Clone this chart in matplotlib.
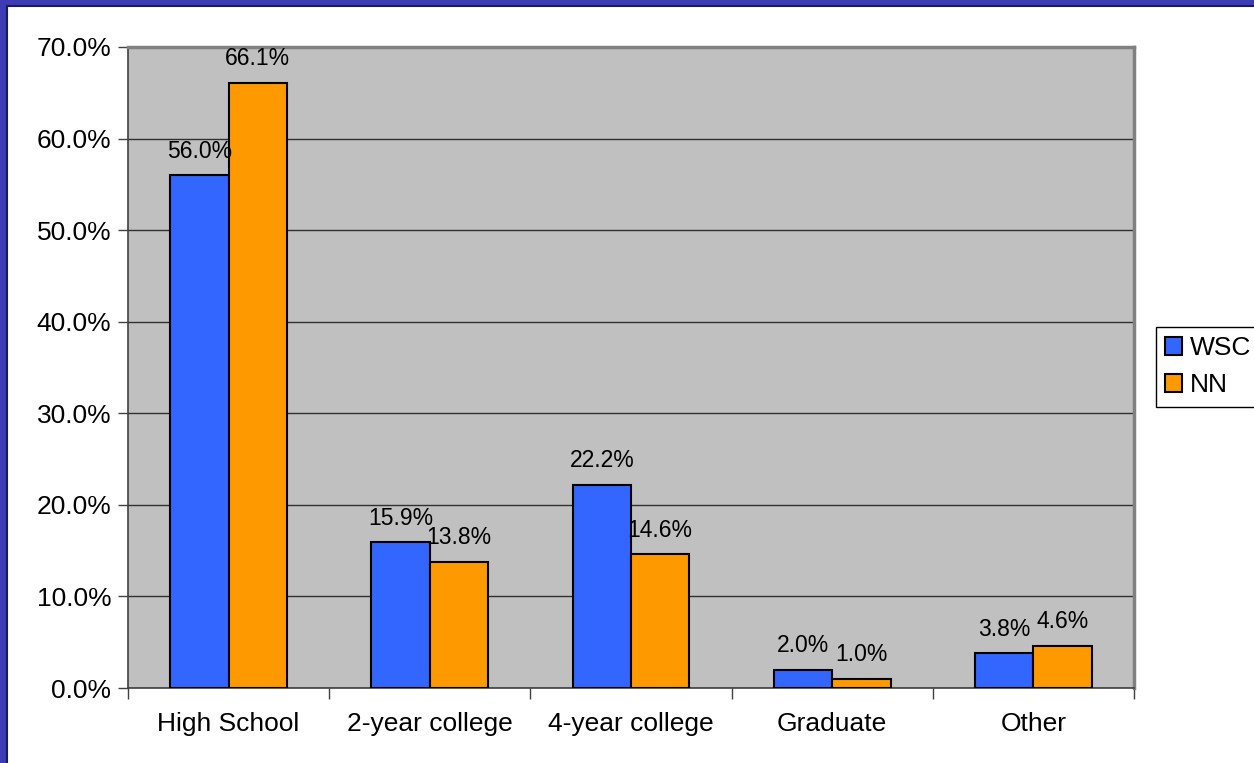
import matplotlib.pyplot as plt
from matplotlib.patches import Rectangle
import numpy as np

plt.rcParams['font.family'] = ['Liberation Sans', 'DejaVu Sans']

categories = ['High School', '2-year college', '4-year college', 'Graduate', 'Other']
wsc = [56.0, 15.9, 22.2, 2.0, 3.8]
nn = [66.1, 13.8, 14.6, 1.0, 4.6]
yticks = [0, 10, 20, 30, 40, 50, 60, 70]

W, H = 1254, 763
fig = plt.figure(figsize=(W / 100, H / 100), dpi=100)
fig.patch.set_facecolor('#3c3cb4')
# white slide area with dark edge
fig.patches.append(Rectangle((7 / W, -0.01), 1.01, 1 - 6 / H + 0.01, transform=fig.transFigure,
                             facecolor='white', edgecolor='#1a1a60', linewidth=1.5, zorder=-5))

ax = fig.add_axes([128 / W, 1 - 688 / H, (1134 - 128) / W, (688 - 47) / H])
ax.set_zorder(2)
ax.set_facecolor('#c0c0c0')

x = np.arange(len(categories))
bw = 0.29
b1 = ax.bar(x - bw / 2, wsc, bw, color='#3366ff', edgecolor='black', linewidth=1.5, label='WSC', zorder=3)
b2 = ax.bar(x + bw / 2, nn, bw, color='#ff9900', edgecolor='black', linewidth=1.5, label='NN', zorder=3)

for bars, vals in [(b1, wsc), (b2, nn)]:
    for r, v in zip(bars, vals):
        ax.annotate('%.1f%%' % v, (r.get_x() + r.get_width() / 2, v), xytext=(0, 9),
                    textcoords='offset points', ha='center', va='bottom', fontsize=16.5, zorder=4)

ax.set_xlim(-0.5, len(categories) - 0.5)
ax.set_ylim(0, 70)
ax.set_yticks(yticks)
ax.set_yticklabels(['%.1f%%' % v for v in yticks], fontsize=19)
ax.yaxis.grid(True, color='#303030', linewidth=1)
ax.set_axisbelow(True)

ax.set_xticks(x)
ax.set_xticklabels(categories, fontsize=19)
ax.tick_params(axis='x', length=0, pad=17)
ax.set_xticks(np.arange(-0.5, len(categories)), minor=True)
ax.tick_params(axis='x', which='minor', length=8, color='#404040', width=1)
ax.tick_params(axis='y', length=7, color='#404040', width=1, pad=5)

for s in ['left', 'bottom']:
    ax.spines[s].set_color('#404040')
    ax.spines[s].set_linewidth(1.2)
for s in ['top', 'right']:
    ax.spines[s].set_color('#808080')
    ax.spines[s].set_linewidth(2.5)

leg = ax.legend(loc='upper left', bbox_to_anchor=(1156 / W, 1 - 327 / H), bbox_transform=fig.transFigure,
                fontsize=19, frameon=True, fancybox=False, edgecolor='black', framealpha=1,
                handlelength=0.65, handleheight=0.65, handletextpad=0.3, borderpad=0.35,
                labelspacing=0.5, borderaxespad=0)
leg.get_frame().set_linewidth(1)

fig.savefig('out.png', dpi=100, facecolor=fig.get_facecolor())
